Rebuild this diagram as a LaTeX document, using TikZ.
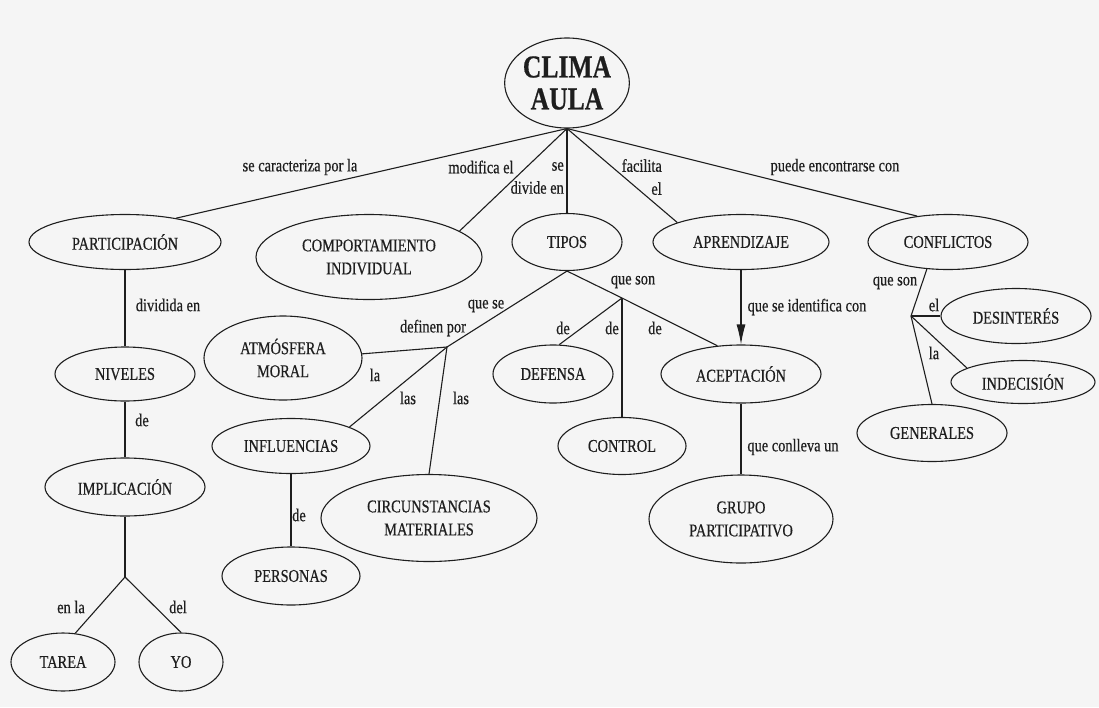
\documentclass[tikz,border=0pt]{standalone}
\usepackage{fontspec}
\setmainfont{Liberation Serif}[FakeStretch=0.8, FakeBold=0.5]
\usetikzlibrary{shapes.geometric,arrows.meta}
\newcommand{\cmtext}{\fontsize{18}{23}\selectfont}
\newcommand{\cmbig}{\fontsize{32}{32}\selectfont\bfseries}
\definecolor{bgcol}{RGB}{245,245,245}
\definecolor{ink}{RGB}{30,30,30}
\tikzset{
  concept/.style={ellipse, draw=ink, line width=1.1pt, inner sep=0pt, align=center, font=\cmtext, text=ink},
  lbl/.style={font=\cmtext, inner sep=1pt, text=ink},
  conn/.style={draw=ink, line width=1.1pt},
}
\begin{document}
\begin{tikzpicture}[x=1pt,y=-1pt]
\fill[bgcol] (0,0) rectangle (1099,707);
\useasboundingbox (0,0) rectangle (1099,707);

% nodes
\node[concept, font=\cmbig, minimum width=110pt, minimum height=90pt] (clima) at (567,83) {CLIMA\\AULA};
\node[concept, minimum width=192pt, minimum height=55pt] (part) at (125,242) {PARTICIPACIÓN};
\node[concept, minimum width=226pt, minimum height=85pt] (comp) at (369,257) {COMPORTAMIENTO\\INDIVIDUAL};
\node[concept, minimum width=110pt, minimum height=57pt] (tipos) at (567,242) {TIPOS};
\node[concept, minimum width=176pt, minimum height=55pt] (aprend) at (741,242) {APRENDIZAJE};
\node[concept, minimum width=160pt, minimum height=55pt] (confl) at (948,242) {CONFLICTOS};
\node[concept, minimum width=140pt, minimum height=54pt] (niveles) at (125,374) {NIVELES};
\node[concept, minimum width=160pt, minimum height=58pt] (implic) at (125,487) {IMPLICACIÓN};
\node[concept, minimum width=104pt, minimum height=58pt] (tarea) at (63,662) {TAREA};
\node[concept, minimum width=84pt, minimum height=58pt] (yo) at (181,662) {YO};
\node[concept, minimum width=158pt, minimum height=84pt] (atmos) at (283,358) {ATMÓSFERA\\MORAL};
\node[concept, minimum width=158pt, minimum height=55pt] (influ) at (291,446) {INFLUENCIAS};
\node[concept, minimum width=138pt, minimum height=58pt] (personas) at (291,576) {PERSONAS};
\node[concept, minimum width=216pt, minimum height=87pt] (circ) at (429,518) {CIRCUNSTANCIAS\\MATERIALES};
\node[concept, minimum width=120pt, minimum height=58pt] (defensa) at (553,374) {DEFENSA};
\node[concept, minimum width=128pt, minimum height=57pt] (control) at (622,446) {CONTROL};
\node[concept, minimum width=160pt, minimum height=58pt] (acept) at (741,374) {ACEPTACIÓN};
\node[concept, minimum width=184pt, minimum height=88pt] (grupo) at (741,519) {GRUPO\\PARTICIPATIVO};
\node[concept, minimum width=150pt, minimum height=55pt] (desint) at (1016,316) {DESINTERÉS};
\node[concept, minimum width=144pt, minimum height=43pt] (indec) at (1023,382) {INDECISIÓN};
\node[concept, minimum width=150pt, minimum height=57pt] (generales) at (932,433) {GENERALES};

% junctions
\coordinate (jimp) at (125,577);
\coordinate (jdef) at (447,347);
\coordinate (jtip) at (622,298);
\coordinate (jconf) at (911,316);

% connectors from CLIMA AULA
\draw[conn] (clima.south) -- (part.25);
\draw[conn] (clima.south) -- (comp.16);
\draw[conn] (clima.south) -- (tipos.north);
\draw[conn] (clima.south) -- (aprend.163);
\draw[conn] (clima.south) -- (confl.140);

% left column
\draw[conn] (part.south) -- (niveles.north);
\draw[conn] (niveles.south) -- (implic.north);
\draw[conn] (implic.south) -- (jimp);
\draw[conn] (jimp) -- (tarea.67);
\draw[conn] (jimp) -- (yo.north);

% tipos branches
\draw[conn] (tipos.south) -- (jdef);
\draw[conn] (jdef) -- (atmos.3);
\draw[conn] (jdef) -- (influ.18);
\draw[conn] (jdef) -- (circ.north);
\draw[conn] (influ.south) -- (personas.north);
\draw[conn] (tipos.south) -- (jtip) -- (acept.130);
\draw[conn] (jtip) -- (defensa.78);
\draw[conn] (jtip) -- (control.north);

% aprendizaje
\draw[conn, -{Latex[length=20pt,width=9pt]}] (aprend.south) -- (acept.north);
\draw[conn] (acept.south) -- (grupo.north);

% conflictos
\draw[conn] (confl.232) -- (jconf);
\draw[conn] (jconf) -- (desint.west);
\draw[conn] (jconf) -- (indec.166);
\draw[conn] (jconf) -- (generales.north);

% labels
\node[lbl] (l1) at (300,167) {se caracteriza por la};
\node[lbl] (l2) at (481,167) {modifica el};
\node[lbl, align=right, anchor=east] (l3) at (565,178) {se\\divide en};
\node[lbl, align=right, anchor=east] (l4) at (663,177) {facilita\\el};
\node[lbl] (l5) at (835,167) {puede encontrarse con};
\node[lbl] (l6) at (168,305) {dividida en};
\node[lbl] (l7) at (142,420) {de};
\node[lbl] (l8) at (71,607) {en la};
\node[lbl] (l9) at (178,607) {del};
\node[lbl] (l10) at (486,306) {que se};
\node[lbl] (l11) at (433,328) {definen por};
\node[lbl] (l12) at (375,375) {la};
\node[lbl] (l13) at (408,398) {las};
\node[lbl] (l14) at (461,398) {las};
\node[lbl] (l15) at (299,515) {de};
\node[lbl] (l16) at (633,282) {que son};
\node[lbl] (l17) at (563,328) {de};
\node[lbl] (l18) at (612,328) {de};
\node[lbl] (l19) at (655,328) {de};
\node[lbl] (l20) at (807,307) {que se identifica con};
\node[lbl] (l21) at (793,447) {que conlleva un};
\node[lbl] (l22) at (895,283) {que son};
\node[lbl] (l23) at (934,305) {el};
\node[lbl] (l24) at (934,353) {la};
\end{tikzpicture}
\end{document}
